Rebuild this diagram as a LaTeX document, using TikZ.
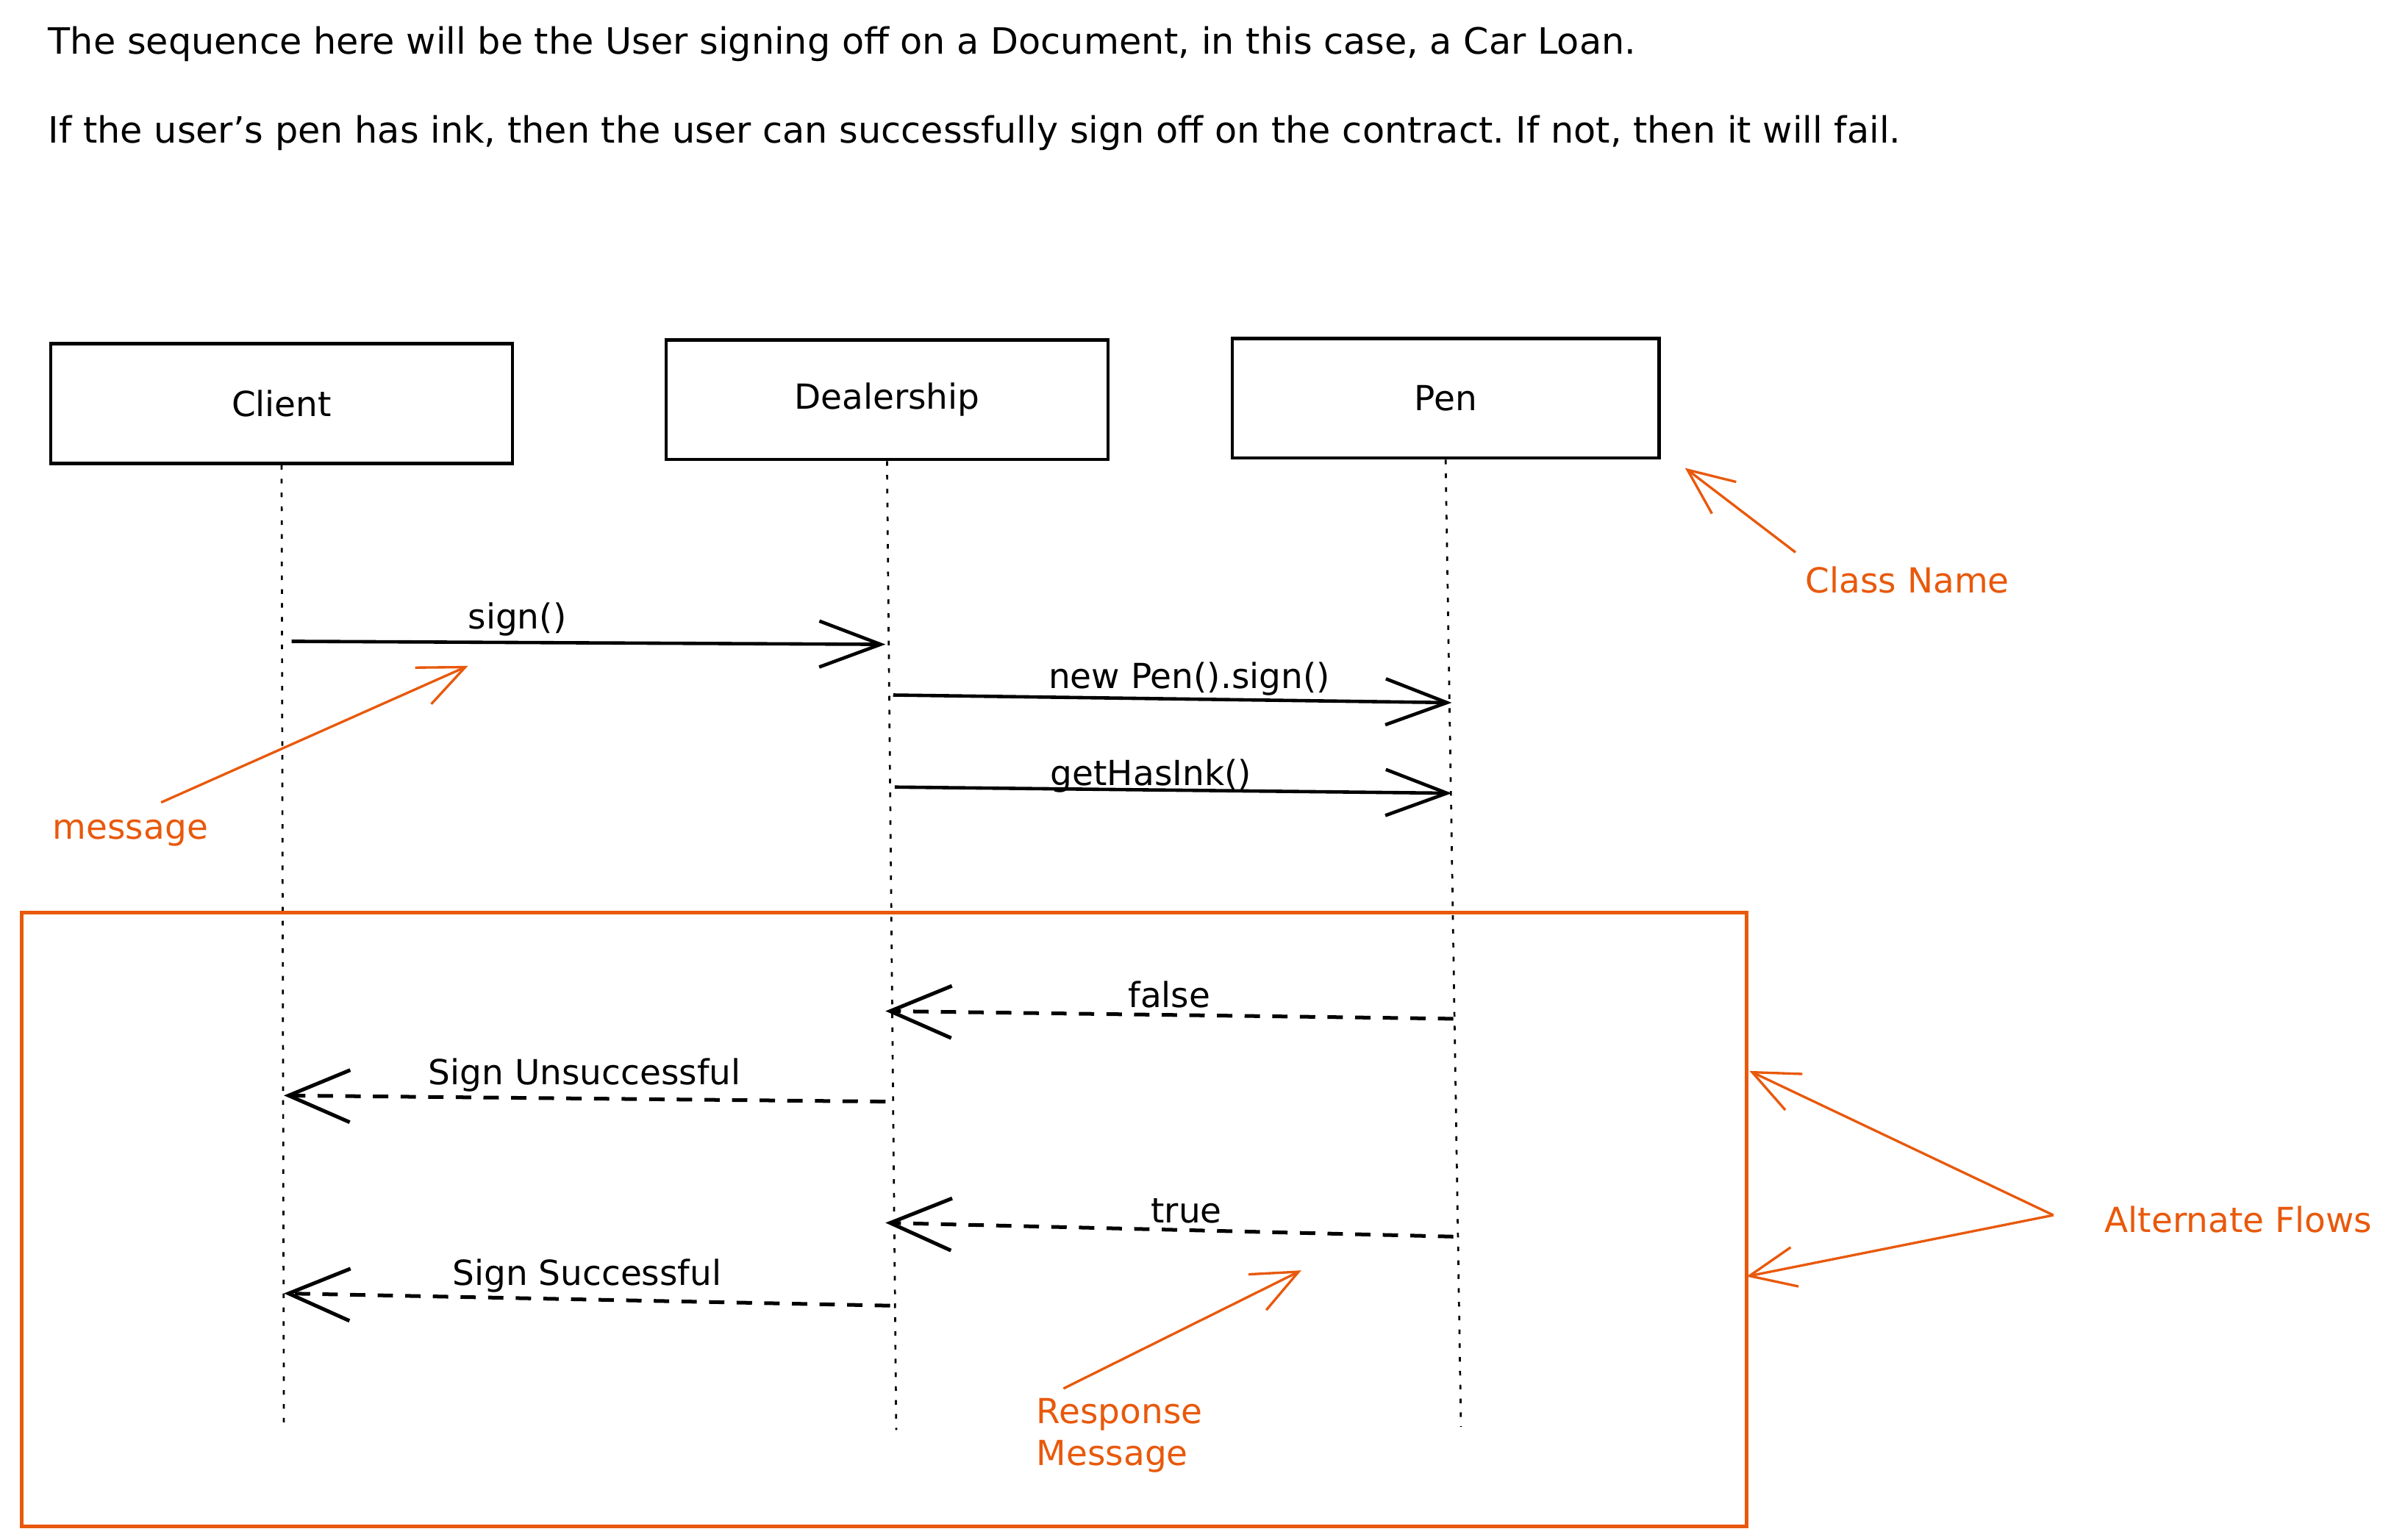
\documentclass[tikz,border=0pt]{standalone}
\usepackage{fontspec}
\setmainfont{DejaVu Sans}
\usepackage{tikz}
\usetikzlibrary{arrows.meta,positioning}
\definecolor{notecol}{RGB}{232,89,12}
\frenchspacing

\begin{document}
\begin{tikzpicture}
    [
        x=1pt, y=-1pt,
        every node/.style={font=\fontsize{22.5}{27}\selectfont},
        intro/.style={anchor=base west,font=\fontsize{23.6}{28}\selectfont},
        box/.style={rectangle,draw=black,line width=2.2pt,minimum height=78pt},
        life/.style={line width=1.3pt,dash pattern=on 3pt off 6pt},
        msg/.style={line width=2.2pt,-{Straight Barb[length=40pt,width=30pt]}},
        reply/.style={line width=2.4pt,dash pattern=on 10pt off 8pt,-{Straight Barb[length=40pt,width=34pt]}},
        note/.style={text=notecol},
        notearrow/.style={draw=notecol,line width=1.6pt,-{Straight Barb[length=30pt,width=26pt]}},
    ]
\useasboundingbox (0,0) rectangle (1560,1003.7);

% intro text
\node[intro] (intro1) at (28,35) {The sequence here will be the User signing off on a Document, in this case, a Car Loan.};
\node[intro] (intro2) at (28,93) {If the user's pen has ink, then the user can successfully sign off on the contract. If not, then it will fail.};

% classes and lifelines
\node[box, minimum width=301pt] (client) at (183.5,263) {Client};
\node[box, minimum width=288pt] (dealer) at (578,260.5) {Dealership};
\node[box, minimum width=278pt] (pen) at (942,259.5) {Pen};
\coordinate (clientend) at (185,932);
\coordinate (dealerend) at (584,932);
\coordinate (penend) at (952,930);
\foreach \c in {client,dealer,pen}
    \draw[life] (\c.south) -- (\c end);

% messages
\coordinate (m1a) at (190,418);  \coordinate (m1b) at (577,420);
\coordinate (m2a) at (582,453);  \coordinate (m2b) at (946,458);
\coordinate (m3a) at (583,513);  \coordinate (m3b) at (946,517);
\draw[msg] (m1a) -- node[pos=.38,above] {sign()} (m1b);
\draw[msg] (m2a) -- node[pos=.53,above=-2pt] {new Pen().sign()} (m2b);
\draw[msg] (m3a) -- node[pos=.46,above=-6pt] {getHasInk()} (m3b);

% responses
\coordinate (r1a) at (947,664);  \coordinate (r1b) at (577,659);
\coordinate (r2a) at (577,718);  \coordinate (r2b) at (185,714);
\coordinate (r3a) at (947,806);  \coordinate (r3b) at (577,797);
\coordinate (r4a) at (580,851);  \coordinate (r4b) at (185,843);
\draw[reply] (r1a) -- node[pos=.50,above] {false} (r1b);
\draw[reply] (r2a) -- node[pos=.50,above] {Sign Unsuccessful} (r2b);
\draw[reply] (r3a) -- node[pos=.47,above] {true} (r3b);
\draw[reply] (r4a) -- node[pos=.50,above] {Sign Successful} (r4b);

% alternate flows frame
\draw[notecol, line width=2.4pt] (14,595) rectangle (1138,995);

% notes
\node[note] (classname) at (1243,378) {Class Name};
\node[note] (message) at (85,543) {message};
\node[note, align=left, anchor=north west] (response) at (672,908) {Response\\Message};
\node[note, anchor=west] (altflows) at (1368,795) {Alternate Flows};
\coordinate (cnfrom) at (1170,360);  \coordinate (cnto) at (1098,305);
\coordinate (msgfrom) at (105,523);  \coordinate (msgto) at (305,434);
\coordinate (rspfrom) at (693,905);  \coordinate (rspto) at (848,828);
\coordinate (altfrom) at (1338,792);
\coordinate (altto1) at (1140,698);  \coordinate (altto2) at (1138,832);
\draw[notearrow] (cnfrom) -- (cnto);
\draw[notearrow] (msgfrom) -- (msgto);
\draw[notearrow] (rspfrom) -- (rspto);
\draw[notearrow] (altfrom) -- (altto1);
\draw[notearrow] (altfrom) -- (altto2);
\end{tikzpicture}
\end{document}
